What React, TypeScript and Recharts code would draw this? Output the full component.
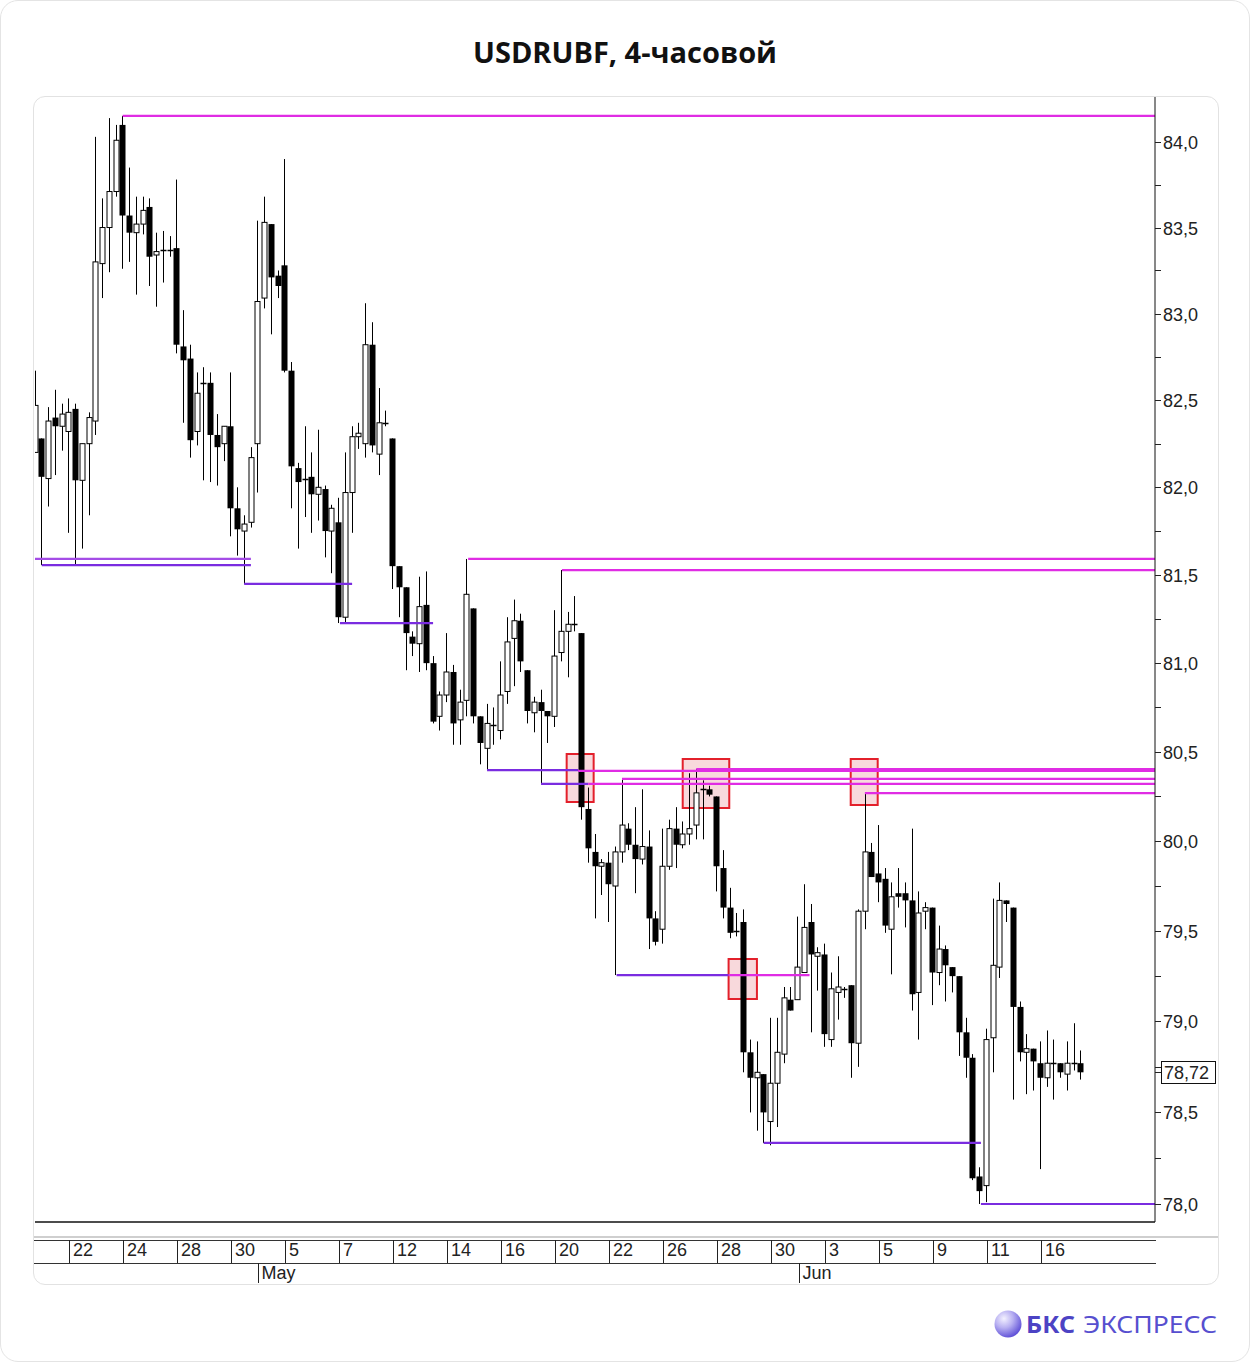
import React from 'react';
import { ComposedChart, Bar, XAxis, YAxis, ReferenceLine, ReferenceArea } from 'recharts';

// ---- DATA (4-hour candles, USDRUBF) ----
const opens = [
  82.20, 82.28, 82.05, 82.40, 82.35, 82.32, 82.45, 82.04, 82.25, 82.38,
  83.29, 83.50, 83.71, 84.10, 83.57, 83.47, 83.52, 83.62, 83.34, 83.37,
  83.37, 83.38, 82.81, 82.74, 82.32, 82.60, 82.60, 82.30, 82.25, 82.35,
  81.88, 81.75, 81.80, 82.25, 83.09, 83.52, 83.22, 83.28, 82.67, 82.11,
  82.05, 82.06, 81.96, 81.99, 81.75, 81.80, 81.26, 81.97, 82.29, 82.25,
  82.82, 82.19, 82.37, 82.28, 81.55, 81.43, 81.15, 81.11, 81.33, 81.00,
  80.70, 80.82, 80.95, 80.68, 80.79, 81.31, 80.70, 80.52, 80.65, 80.62,
  80.84, 81.14, 81.24, 80.96, 80.72, 80.78, 80.73, 80.70, 81.06, 81.18,
  81.22, 81.17, 80.18, 79.94, 79.86, 79.88, 79.75, 79.94, 80.07, 79.98,
  79.90, 79.97, 79.57, 79.51, 79.86, 80.07, 79.98, 80.04, 80.09, 80.29,
  80.29, 80.25, 79.85, 79.63, 79.50, 79.55, 78.83, 78.69, 78.71, 78.45,
  78.66, 78.82, 79.12, 79.12, 79.27, 79.55, 79.36, 79.37, 78.90, 79.16,
  79.18, 79.20, 78.88, 79.61, 79.94, 79.82, 79.79, 79.51, 79.71, 79.71,
  79.67, 79.16, 79.61, 79.63, 79.27, 79.40, 79.30, 79.25, 78.94, 78.80,
  78.15, 78.10, 78.91, 79.30, 79.67, 79.63, 79.08, 78.83, 78.85, 78.77,
  78.69, 78.77, 78.77, 78.71, 78.77, 78.77,
];
const highs = [
  82.67, 82.28, 82.46, 82.56, 82.48, 82.51, 82.48, 82.25, 82.43, 84.03,
  83.67, 84.14, 84.10, 84.153, 83.85, 83.68, 83.68, 83.67, 83.47, 83.48,
  83.45, 83.78, 83.02, 82.82, 82.66, 82.69, 82.66, 82.42, 82.35, 82.66,
  82.00, 81.84, 82.23, 83.54, 83.68, 83.52, 83.25, 83.90, 82.72, 82.14,
  82.35, 82.20, 82.33, 82.01, 81.90, 81.94, 82.20, 82.35, 82.37, 83.06,
  82.95, 82.57, 82.44, 82.28, 81.55, 81.43, 81.18, 81.49, 81.52, 81.04,
  80.84, 81.17, 80.99, 80.85, 81.591, 81.31, 80.70, 80.77, 80.75, 81.01,
  81.26, 81.36, 81.28, 80.96, 80.81, 80.85, 80.73, 81.30, 81.528, 81.29,
  81.38, 81.17, 80.30, 80.04, 79.90, 79.94, 79.97, 80.348, 80.10, 80.19,
  80.29, 80.06, 79.61, 80.07, 80.12, 80.19, 80.11, 80.38, 80.404, 80.34,
  80.31, 80.25, 79.95, 79.74, 79.60, 79.62, 78.90, 78.89, 78.71, 79.02,
  79.02, 79.19, 79.19, 79.58, 79.76, 79.65, 79.41, 79.43, 79.27, 79.36,
  79.19, 79.20, 79.62, 80.269, 79.99, 80.09, 79.85, 79.77, 79.85, 79.77,
  80.07, 79.72, 79.66, 79.63, 79.53, 79.42, 79.30, 79.25, 79.02, 78.82,
  78.20, 78.96, 79.68, 79.77, 79.67, 79.63, 79.11, 78.93, 78.85, 78.89,
  78.95, 78.90, 78.77, 78.89, 78.99, 78.84,
];
const lows = [
  82.20, 81.556, 81.89, 82.07, 82.21, 81.74, 81.56, 81.65, 81.84, 82.30,
  83.09, 83.24, 83.68, 83.26, 83.30, 83.11, 83.46, 83.16, 83.04, 83.18,
  83.33, 82.77, 82.37, 82.17, 82.24, 82.04, 82.03, 82.01, 82.15, 81.72,
  81.61, 81.449, 81.77, 81.97, 83.03, 82.88, 83.09, 82.66, 81.88, 81.65,
  81.83, 81.74, 81.81, 81.60, 81.51, 81.227, 81.23, 81.74, 82.22, 82.17,
  82.20, 82.07, 82.35, 81.42, 81.26, 80.96, 81.04, 80.95, 80.96, 80.66,
  80.62, 80.78, 80.54, 80.54, 80.70, 80.66, 80.43, 80.398, 80.54, 80.57,
  80.77, 80.87, 80.95, 80.66, 80.61, 80.32, 80.55, 80.64, 81.01, 80.92,
  81.18, 80.12, 79.88, 79.57, 79.70, 79.55, 79.256, 79.88, 79.95, 79.71,
  79.87, 79.40, 79.42, 79.43, 79.84, 79.85, 79.96, 79.98, 80.01, 80.01,
  80.25, 79.72, 79.57, 79.46, 79.47, 78.72, 78.50, 78.40, 78.333, 78.32,
  78.42, 78.77, 79.06, 79.12, 79.27, 78.94, 79.17, 78.86, 78.86, 79.01,
  79.13, 78.69, 78.75, 79.51, 79.80, 79.66, 79.49, 79.26, 79.63, 79.52,
  79.06, 78.90, 79.51, 79.09, 79.20, 79.11, 79.16, 78.81, 78.69, 78.13,
  78.00, 78.01, 78.72, 79.24, 79.55, 78.57, 78.78, 78.60, 78.62, 78.19,
  78.64, 78.57, 78.69, 78.62, 78.73, 78.68,
];
const closes = [
  82.47, 82.06, 82.38, 82.35, 82.42, 82.43, 82.04, 82.25, 82.40, 83.30,
  83.50, 83.71, 84.01, 83.57, 83.47, 83.52, 83.60, 83.33, 83.36, 83.37,
  83.37, 82.82, 82.73, 82.27, 82.54, 82.60, 82.30, 82.23, 82.35, 81.88,
  81.76, 81.79, 82.17, 83.07, 83.53, 83.21, 83.16, 82.67, 82.12, 82.03,
  82.05, 81.96, 82.00, 81.75, 81.88, 81.26, 81.97, 82.29, 82.31, 82.82,
  82.24, 82.37, 82.37, 81.55, 81.43, 81.17, 81.11, 81.32, 81.00, 80.67,
  80.82, 80.95, 80.66, 80.78, 81.39, 80.70, 80.55, 80.66, 80.65, 80.82,
  81.12, 81.24, 81.01, 80.73, 80.78, 80.73, 80.70, 81.04, 81.18, 81.22,
  81.22, 80.19, 79.96, 79.86, 79.88, 79.76, 79.94, 80.09, 79.98, 79.90,
  79.97, 79.57, 79.44, 79.86, 80.07, 79.98, 80.04, 80.07, 80.27, 80.29,
  80.26, 79.86, 79.63, 79.49, 79.50, 78.83, 78.69, 78.72, 78.50, 78.66,
  78.83, 79.13, 79.06, 79.30, 79.52, 79.37, 79.38, 78.93, 79.18, 79.19,
  79.18, 78.88, 79.61, 79.94, 79.80, 79.77, 79.53, 79.69, 79.69, 79.67,
  79.15, 79.60, 79.63, 79.27, 79.40, 79.31, 79.25, 78.94, 78.80, 78.14,
  78.07, 78.90, 79.31, 79.67, 79.65, 79.08, 78.83, 78.85, 78.78, 78.69,
  78.77, 78.77, 78.72, 78.77, 78.77, 78.72,
];

const dayTickIdx = [5.1, 13.1, 21.1, 29.1, 37.1, 45.1, 53.1, 61.1, 69.1, 77.1, 85.1, 93.1, 101.1, 109.1, 117.1, 125.1, 133.1, 141.1, 149.1];
const dayTickLabels = ['22', '24', '28', '30', '5', '7', '12', '14', '16', '20', '22', '26', '28', '30', '3', '5', '9', '11', '16'];
const monthTickIdx = [33.0, 113.2];
const monthTickLabels = ['May', 'Jun'];

const yMajorTicks = [78, 78.5, 79, 79.5, 80, 80.5, 81, 81.5, 82, 82.5, 83, 83.5, 84];
const yMinorTicks = [78.25, 78.75, 79.25, 79.75, 80.25, 80.75, 81.25, 81.75, 82.25, 82.75, 83.25, 83.75];
const lastPrice = 78.72;

const MAGENTA = '#e02ce4';
const PURPLE = '#7a2ce0';
const LILAC = '#a44ce6';

const levelValues = [84.153, 81.591, 81.556, 81.449, 81.227, 81.591, 81.528, 80.398, 80.393, 80.404, 80.348, 80.320, 80.320, 80.269, 79.256, 79.256, 78.333, 78.0];
const levelFrom = [13, 0, 1, 31, 45.2, 64.2, 78.1, 67, 80.5, 98, 87, 75, 82, 123, 86.2, 102.8, 108, 140.2];
const levelTo = [166, 32, 32, 47, 59, 166, 166, 80.5, 166, 166, 166, 82, 166, 166, 102.8, 114.8, 140.2, 166];
const levelColors = [MAGENTA, LILAC, PURPLE, PURPLE, PURPLE, MAGENTA, MAGENTA, PURPLE, MAGENTA, MAGENTA, MAGENTA, PURPLE, MAGENTA, MAGENTA, PURPLE, MAGENTA, PURPLE, PURPLE];

const zoneX1 = [78.8, 96.0, 120.9, 102.8];
const zoneX2 = [82.8, 102.9, 124.9, 107.0];
const zoneLow = [80.219, 80.185, 80.202, 79.124];
const zoneHigh = [80.488, 80.460, 80.460, 79.345];

const data = opens.map((o, i) => ({
  i,
  open: o,
  high: highs[i],
  low: lows[i],
  close: closes[i],
  range: [lows[i], highs[i]],
}));

const FONT = '"Liberation Sans", Arial, sans-serif';

const Candle = (props: any) => {
  const { x, y, width, height, payload } = props;
  if (x == null || y == null || !payload) return null;
  const top = Math.min(y, y + height);
  const h = Math.abs(height);
  const lnH = Math.log(payload.high);
  const lnL = Math.log(payload.low);
  const toY = (v: number) => (lnH === lnL ? top : top + (h * (lnH - Math.log(v))) / (lnH - lnL));
  const cx = Math.round(x + width / 2) + 0.5;
  const yo = toY(payload.open);
  const yc = toY(payload.close);
  const bt = Math.min(yo, yc);
  const bb = Math.max(yo, yc);
  const up = payload.close >= payload.open;
  let body;
  if (bb - bt < 1.2) {
    body = <line x1={cx - 3} x2={cx + 3} y1={Math.round(bt) + 0.5} y2={Math.round(bt) + 0.5} stroke="#000" strokeWidth={1.5} />;
  } else if (up) {
    body = <rect x={cx - 2.5} y={bt} width={5} height={bb - bt} fill="#fff" stroke="#000" strokeWidth={1} />;
  } else {
    body = <rect x={cx - 3} y={bt} width={6} height={bb - bt} fill="#000" />;
  }
  return (
    <g>
      <line x1={cx} x2={cx} y1={top} y2={top + h} stroke="#000" strokeWidth={1} />
      {body}
    </g>
  );
};

const DayTick = (props: any) => {
  const { x, payload } = props;
  const k = dayTickIdx.indexOf(payload.value);
  const lx = Math.round(x) + 0.5;
  return (
    <g>
      <line x1={lx} x2={lx} y1={1240} y2={1263} stroke="#222" strokeWidth={1} />
      <text x={lx + 3.5} y={1256} fontSize={18} fontFamily={FONT} fill="#222">{k >= 0 ? dayTickLabels[k] : ''}</text>
    </g>
  );
};

const MonthTick = (props: any) => {
  const { x, payload } = props;
  const k = monthTickIdx.indexOf(payload.value);
  const lx = Math.round(x) + 0.5;
  return (
    <g>
      <line x1={lx} x2={lx} y1={1263} y2={1283} stroke="#222" strokeWidth={1} />
      <text x={lx + 3} y={1279} fontSize={18} fontFamily={FONT} fill="#222">{k >= 0 ? monthTickLabels[k] : ''}</text>
    </g>
  );
};

const PriceTick = (props: any) => {
  const { y, payload } = props;
  const v = payload.value;
  const yy = Math.round(y) + 0.5;
  if (v === lastPrice) {
    return (
      <g>
        <line x1={1155} x2={1161} y1={yy} y2={yy} stroke="#222" />
        <rect x={1161.5} y={yy - 11} width={54} height={22} fill="#fff" stroke="#111" strokeWidth={1} />
        <text x={1164} y={yy} dy="0.36em" fontSize={18} fontFamily={FONT} fill="#222">{v.toFixed(2).replace('.', ',')}</text>
      </g>
    );
  }
  const major = yMajorTicks.indexOf(v) >= 0;
  return (
    <g>
      <line x1={1155} x2={1161} y1={yy} y2={yy} stroke="#222" />
      {major && (
        <text x={1163} y={yy} dy="0.36em" fontSize={18} fontFamily={FONT} fill="#222">{v.toFixed(1).replace('.', ',')}</text>
      )}
    </g>
  );
};

export default function App() {
  return (
    <div style={{ position: 'absolute', left: 0, top: 0, width: 1250, height: 1363, background: '#fff', overflow: 'hidden' }}>
      <div style={{ position: 'absolute', left: 0, top: 0, width: 1250, height: 1362, boxSizing: 'border-box', border: '1px solid #e4e4e4', borderRadius: 18 }} />
      <div style={{ position: 'absolute', left: 33, top: 96, width: 1186, height: 1189, boxSizing: 'border-box', border: '1px solid #e2e2e2', borderRadius: 12 }} />
      <div style={{ position: 'absolute', left: 0, top: 33, width: 1250, textAlign: 'center', fontFamily: '"Open Sans", "Noto Sans", sans-serif', fontWeight: 700, fontSize: 29, lineHeight: '38px', color: '#111' }}>
        USDRUBF, 4-часовой
      </div>
      <svg style={{ position: 'absolute', left: 0, top: 0 }} width={1250} height={1363}>
        <line x1={34} x2={1218} y1={1237} y2={1237} stroke="#cfcfcf" strokeWidth={2} />
        <line x1={34} x2={1156} y1={1240.5} y2={1240.5} stroke="#333" strokeWidth={1} />
        <line x1={34} x2={1156} y1={1263.5} y2={1263.5} stroke="#333" strokeWidth={1} />
        <defs>
          <radialGradient id="sph" cx="35%" cy="30%" r="75%">
            <stop offset="0%" stopColor="#f3f1ff" />
            <stop offset="45%" stopColor="#b9b1f2" />
            <stop offset="100%" stopColor="#5a4bd6" />
          </radialGradient>
        </defs>
        <circle cx={1008} cy={1324} r={13.5} fill="url(#sph)" />
        <text x={1026} y={1333} fontSize={24} fontWeight={700} fontFamily='"Noto Sans", Roboto, sans-serif' fill="#4c43c4" textLength={49} lengthAdjust="spacingAndGlyphs">БКС</text>
        <text x={1083} y={1333} fontSize={24} fontWeight={400} fontFamily='"Noto Sans", Roboto, sans-serif' fill="#574fcf" textLength={134} lengthAdjust="spacingAndGlyphs">ЭКСПРЕСС</text>
      </svg>
      <div style={{ position: 'absolute', left: 0, top: 0 }}>
        <ComposedChart width={1250} height={1363} data={data} margin={{ top: 97, right: 35, bottom: 100, left: 35 }}>
          <XAxis
            dataKey="i"
            type="number"
            domain={[0, 166]}
            allowDataOverflow
            ticks={dayTickIdx}
            interval={0}
            tick={<DayTick />}
            tickLine={false}
            axisLine={{ stroke: '#111', strokeWidth: 1.5 }}
            height={20}
          />
          <XAxis
            xAxisId="m"
            dataKey="i"
            type="number"
            domain={[0, 166]}
            allowDataOverflow
            ticks={monthTickIdx}
            interval={0}
            tick={<MonthTick />}
            tickLine={false}
            axisLine={false}
            height={21}
          />
          <YAxis
            orientation="right"
            type="number"
            scale="log"
            domain={[77.902, 84.264]}
            allowDataOverflow
            ticks={[...yMajorTicks, ...yMinorTicks, lastPrice]}
            interval={0}
            tick={<PriceTick />}
            tickLine={false}
            axisLine={{ stroke: '#111', strokeWidth: 1 }}
            width={60}
          />
          {zoneX1.map((x1, k) => (
            <ReferenceArea
              key={'z' + k}
              x1={x1}
              x2={zoneX2[k]}
              y1={zoneLow[k]}
              y2={zoneHigh[k]}
              fill="#f2b9c0"
              fillOpacity={0.55}
              stroke="#e3202b"
              strokeWidth={2}
              strokeOpacity={1}
              ifOverflow="visible"
            />
          ))}
          <Bar dataKey="range" barSize={6} shape={(p: any) => <Candle {...p} />} isAnimationActive={false} />
          {levelValues.map((v, k) => (
            <ReferenceLine
              key={'l' + k}
              segment={[{ x: levelFrom[k], y: v }, { x: levelTo[k], y: v }]}
              stroke={levelColors[k]}
              strokeWidth={2.2}
              ifOverflow="visible"
            />
          ))}
        </ComposedChart>
      </div>
    </div>
  );
}
